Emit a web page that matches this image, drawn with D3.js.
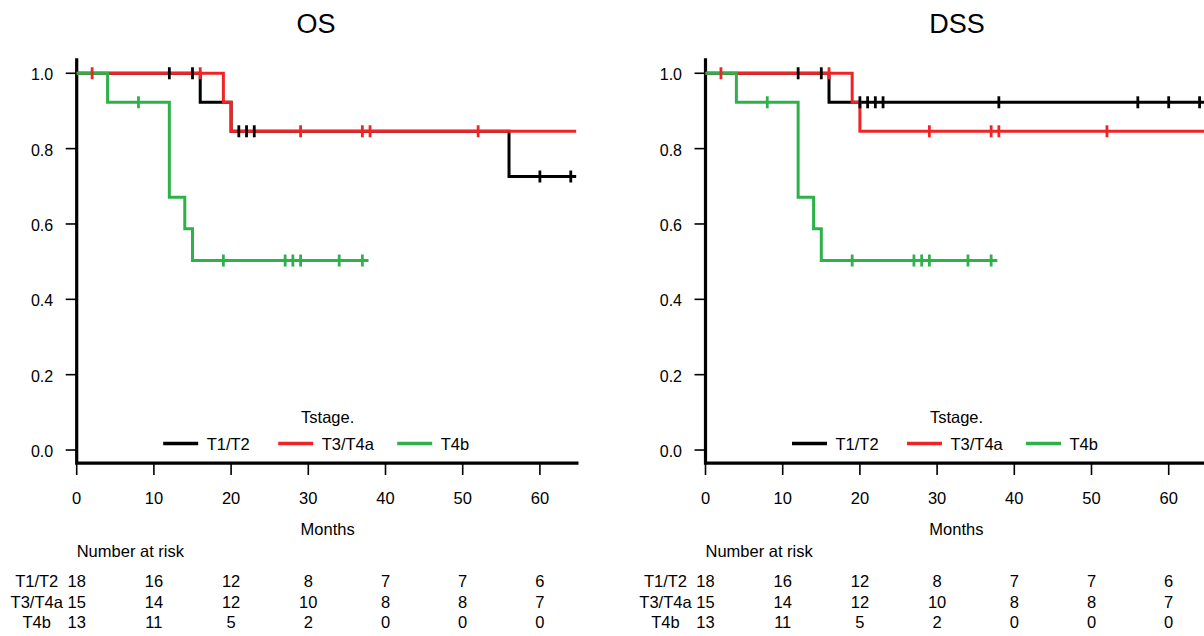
<!DOCTYPE html>
<html>
<head>
<meta charset="utf-8">
<script src="https://cdn.jsdelivr.net/npm/d3@7"></script>
<style>
  html, body { margin: 0; padding: 0; background: #fff; }
  svg { display: block; font-family: "Liberation Sans", Arial, sans-serif; }
</style>
</head>
<body>
<svg id="chart" width="1204" height="636"></svg>
<script>
// Kaplan-Meier curves by T stage, OS and DSS, with number-at-risk table.

const groups = ['T1/T2', 'T3/T4a', 'T4b'];
const groupColors = ['#000000', '#ee2427', '#2db24a'];

const xTicks = [0, 10, 20, 30, 40, 50, 60];
const yTicks = [0, 0.2, 0.4, 0.6, 0.8, 1.0];

// steps: [month, survival] where the curve drops
const osT12Steps = [[0, 1], [16, 0.923], [20, 0.846], [56, 0.726]];
const osT12Censor = [12, 15, 21, 22, 23, 60, 64];
const osT3Steps = [[0, 1], [19, 0.923], [20, 0.846]];
const osT3Censor = [2, 16, 29, 37, 38, 52];
const osT4bSteps = [[0, 1], [4, 0.923], [12, 0.671], [14, 0.587], [15, 0.503]];
const osT4bCensor = [8, 19, 27, 28, 29, 34, 37];

const dssT12Steps = [[0, 1], [16, 0.923]];
const dssT12Censor = [12, 15, 20, 21, 22, 23, 38, 56, 60, 64];
const dssT3Steps = [[0, 1], [19, 0.923], [20, 0.846]];
const dssT3Censor = [2, 16, 29, 37, 38, 52];
const dssT4bSteps = [[0, 1], [4, 0.923], [12, 0.671], [14, 0.587], [15, 0.503]];
const dssT4bCensor = [8, 19, 27, 28, 29, 34, 37];

// last follow-up month per group
const lastMonth = [64.7, 64.7, 37.8];

// number at risk at each x tick
const riskT12 = [18, 16, 12, 8, 7, 7, 6];
const riskT3 = [15, 14, 12, 10, 8, 8, 7];
const riskT4b = [13, 11, 5, 2, 0, 0, 0];

const panels = [
  { title: 'OS', x0: 76.7, titleX: 316,
    steps: [osT12Steps, osT3Steps, osT4bSteps], censor: [osT12Censor, osT3Censor, osT4bCensor] },
  { title: 'DSS', x0: 705.5, titleX: 957,
    steps: [dssT12Steps, dssT3Steps, dssT4bSteps], censor: [dssT12Censor, dssT3Censor, dssT4bCensor] }
];
const risks = [riskT12, riskT3, riskT4b];

const svg = d3.select('#chart');
const pxPerMonth = 7.72;
const fs = '16.5px';

panels.forEach(drawPanel);

function drawPanel(p) {
  const g = svg.append('g');
  const x = d3.scaleLinear().domain([0, 65]).range([p.x0, p.x0 + 65 * pxPerMonth]);
  const y = d3.scaleLinear().domain([-0.04, 1.04]).range([465.1, 58.2]);

  // title
  g.append('text').attr('x', p.titleX).attr('y', 23.5)
    .attr('text-anchor', 'middle').attr('dominant-baseline', 'central')
    .style('font-size', '27px').text(p.title);

  // L-shaped frame
  g.append('path')
    .attr('d', `M${x(0)},${y(1.04)}V${y(-0.035)}H${x(65)}`)
    .attr('fill', 'none').attr('stroke', '#000').attr('stroke-width', 3.2);

  // y axis
  const yAxis = g.append('g');
  yAxis.selectAll('line').data(yTicks).enter().append('line')
    .attr('x1', x(0) - 11).attr('x2', x(0)).attr('y1', (d) => y(d)).attr('y2', (d) => y(d))
    .attr('stroke', '#000').attr('stroke-width', 1.6);
  yAxis.selectAll('text').data(yTicks).enter().append('text')
    .attr('x', x(0) - 23.5).attr('y', (d) => y(d) + 1.5)
    .attr('text-anchor', 'end').attr('dominant-baseline', 'central')
    .style('font-size', '16px').text((d) => d.toFixed(1));

  // x axis
  const xAxis = g.append('g');
  xAxis.selectAll('line').data(xTicks).enter().append('line')
    .attr('x1', (d) => x(d)).attr('x2', (d) => x(d)).attr('y1', 463).attr('y2', 475)
    .attr('stroke', '#000').attr('stroke-width', 1.6);
  xAxis.selectAll('text').data(xTicks).enter().append('text')
    .attr('x', (d) => x(d)).attr('y', 497.5)
    .attr('text-anchor', 'middle').attr('dominant-baseline', 'central')
    .style('font-size', fs).text((d) => d);
  g.append('text').attr('x', x(32.5)).attr('y', 528.5)
    .attr('text-anchor', 'middle').attr('dominant-baseline', 'central')
    .style('font-size', fs).text('Months');

  // curves
  const line = d3.line().x((d) => x(d[0])).y((d) => y(d[1])).curve(d3.curveStepAfter);
  p.steps.forEach((s, i) => {
    const pts = s.concat([[lastMonth[i], s[s.length - 1][1]]]);
    g.append('path').attr('d', line(pts))
      .attr('fill', 'none').attr('stroke', groupColors[i]).attr('stroke-width', 3)
      .attr('stroke-linejoin', 'miter');
  });

  // censor marks drawn after all curves
  p.censor.forEach((c, i) => {
    const s = p.steps[i];
    const surv = (t) => {
      let v = 1;
      s.forEach((d) => { if (d[0] <= t) v = d[1]; });
      return v;
    };
    g.selectAll(null).data(c).enter().append('line')
      .attr('x1', (d) => x(d)).attr('x2', (d) => x(d))
      .attr('y1', (d) => y(surv(d)) - 6).attr('y2', (d) => y(surv(d)) + 6)
      .attr('stroke', groupColors[i]).attr('stroke-width', 2.8);
  });

  // legend
  g.append('text').attr('x', p.x0 + 251).attr('y', 416.7)
    .attr('text-anchor', 'middle').attr('dominant-baseline', 'central')
    .style('font-size', fs).text('Tstage.');
  const legX = [86.5, 201.5, 320.5];
  groups.forEach((name, i) => {
    const lx = p.x0 + legX[i];
    g.append('line').attr('x1', lx).attr('x2', lx + 35).attr('y1', 443.5).attr('y2', 443.5)
      .attr('stroke', groupColors[i]).attr('stroke-width', 3.5);
    g.append('text').attr('x', lx + 43.5).attr('y', 444)
      .attr('dominant-baseline', 'central')
      .style('font-size', fs).text(name);
  });

  // number at risk
  g.append('text').attr('x', x(0)).attr('y', 550.5)
    .attr('dominant-baseline', 'central')
    .style('font-size', fs).text('Number at risk');
  const rowY = [581, 601.5, 622];
  risks.forEach((r, i) => {
    g.append('text').attr('x', x(0) - 40).attr('y', rowY[i])
      .attr('text-anchor', 'middle').attr('dominant-baseline', 'central')
      .style('font-size', fs).text(groups[i]);
    g.selectAll(null).data(r).enter().append('text')
      .attr('x', (d, k) => x(xTicks[k])).attr('y', rowY[i])
      .attr('text-anchor', 'middle').attr('dominant-baseline', 'central')
      .style('font-size', fs).text((d) => d);
  });
}
</script>
</body>
</html>
